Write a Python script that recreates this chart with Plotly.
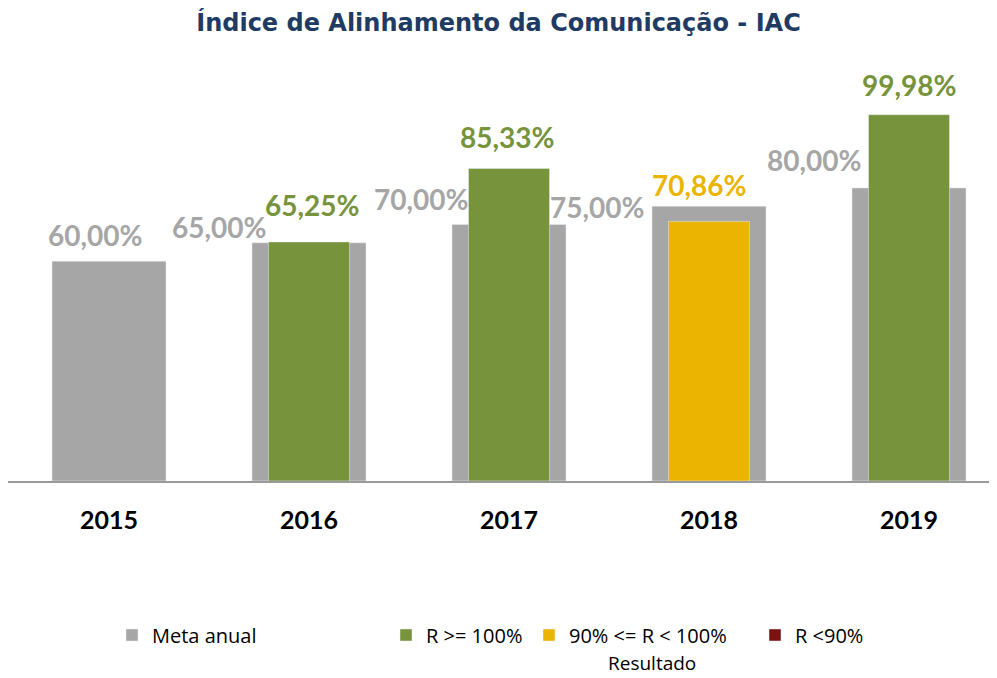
import plotly.graph_objects as go

# ---- data ----
years = [2015, 2016, 2017, 2018, 2019]
meta = [60.00, 65.00, 70.00, 75.00, 80.00]
resultado = [None, 65.25, 85.33, 70.86, 99.98]
tick_labels = ["2015", "2016", "2017", "2018", "2019"]

title = "Índice de Alinhamento da Comunicação - IAC"
name_meta = "Meta anual"
name_ok = "R >= 100%"
name_mid = "90% <= R < 100%"
name_low = "R <90%"
legend_title = "Resultado"

# ---- style ----
GRAY = "#A6A6A6"
GREEN = "#77933C"
YELLOW = "#EBB400"
RED = "#7B1111"
NAVY = "#1F3B63"

W, H = 989, 670          # page body has an 8px margin
PL, PB = 0, 473          # plot left / baseline in figure px
PW, PH = 989, 403

# label offsets (style only): horizontal in x-units, vertical in px
meta_dx = [-0.07, -0.45, -0.44, -0.56, -0.475]
meta_dy = [26, 16, 26, -1, 28]
res_dx = [0, 0.015, -0.012, -0.05, 0.0]
res_dy = [0, 37, 31, 36, 30]


def fmt(v):
    return f"{v:.2f}".replace(".", ",") + "%"


def band(r, m):
    ratio = r / m
    if ratio >= 1:
        return "ok"
    if ratio >= 0.9:
        return "mid"
    return "low"


ok_vals, mid_vals, low_vals = [], [], []
for r, m in zip(resultado, meta):
    b = band(r, m) if r is not None else None
    ok_vals.append(r if b == "ok" else None)
    mid_vals.append(r if b == "mid" else None)
    low_vals.append(r if b == "low" else None)

fig = go.Figure()
fig.add_trace(go.Bar(x=years, y=meta, name=name_meta, marker_color=GRAY,
                     width=0.57, legend="legend", hoverinfo="skip"))
fig.add_trace(go.Bar(x=years, y=ok_vals, name=name_ok, marker_color=GREEN,
                     width=0.405, legend="legend2", hoverinfo="skip"))
fig.add_trace(go.Bar(x=years, y=mid_vals, name=name_mid, marker_color=YELLOW,
                     width=0.405, legend="legend3", hoverinfo="skip"))
fig.add_trace(go.Bar(x=years, y=low_vals, name=name_low, marker_color=RED,
                     width=0.405, legend="legend4", hoverinfo="skip"))

annotations = []
for i, (yr, m) in enumerate(zip(years, meta)):
    annotations.append(dict(x=yr + meta_dx[i], y=m, xref="x", yref="y",
                            text=fmt(m), showarrow=False, yshift=meta_dy[i],
                            font=dict(family="Lato", size=28, color=GRAY, weight="bold"),
                            xanchor="center", yanchor="middle"))
for i, (yr, r) in enumerate(zip(years, resultado)):
    if r is None:
        continue
    b = band(r, meta[i])
    col = {"ok": GREEN, "mid": YELLOW, "low": RED}[b]
    annotations.append(dict(x=yr + res_dx[i], y=r, xref="x", yref="y",
                            text=fmt(r), showarrow=False, yshift=res_dy[i],
                            font=dict(family="Lato", size=28, color=col, weight="bold"),
                            xanchor="center", yanchor="middle"))


def px_x(fx):
    return (fx - PL) / PW


def px_y(fy):
    return (PB - fy) / PH


annotations.append(dict(x=px_x(644), y=px_y(655), xref="paper", yref="paper",
                        text=legend_title, showarrow=False,
                        font=dict(family="Open Sans", size=19, color="#000000"),
                        xanchor="center", yanchor="middle"))

leg_font = dict(family="Open Sans", size=20, color="#000000")


def leg(fx):
    return dict(x=px_x(fx), y=px_y(627), xanchor="left", yanchor="middle",
                orientation="h", font=leg_font, bgcolor="rgba(0,0,0,0)",
                itemwidth=30)


fig.update_layout(
    width=W, height=H,
    margin=dict(l=PL, r=W - PL - PW, t=PB - PH, b=H - PB),
    paper_bgcolor="white", plot_bgcolor="white",
    barmode="overlay",
    title=dict(text=title, x=490.5 / W, xref="container", xanchor="center",
               y=(H - 15) / H, yref="container", yanchor="middle",
               font=dict(family="DejaVu Sans", size=24, color=NAVY, weight="bold")),
    xaxis=dict(range=[2014.495, 2019.44], tickmode="array", tickvals=years,
               ticktext=tick_labels, showgrid=False, zeroline=False,
               showline=True, linecolor="#9A9A9A", linewidth=2,
               ticks="outside", ticklen=16, tickcolor="rgba(0,0,0,0)",
               tickfont=dict(family="Lato", size=25, color="#000000", weight="bold"),
               fixedrange=True),
    yaxis=dict(range=[0, 110], visible=False, showgrid=False, zeroline=False,
               fixedrange=True),
    showlegend=True,
    legend=leg(104),
    legend2=leg(378),
    legend3=leg(521),
    legend4=leg(747),
    annotations=annotations,
)

fig.write_html("out.html")
